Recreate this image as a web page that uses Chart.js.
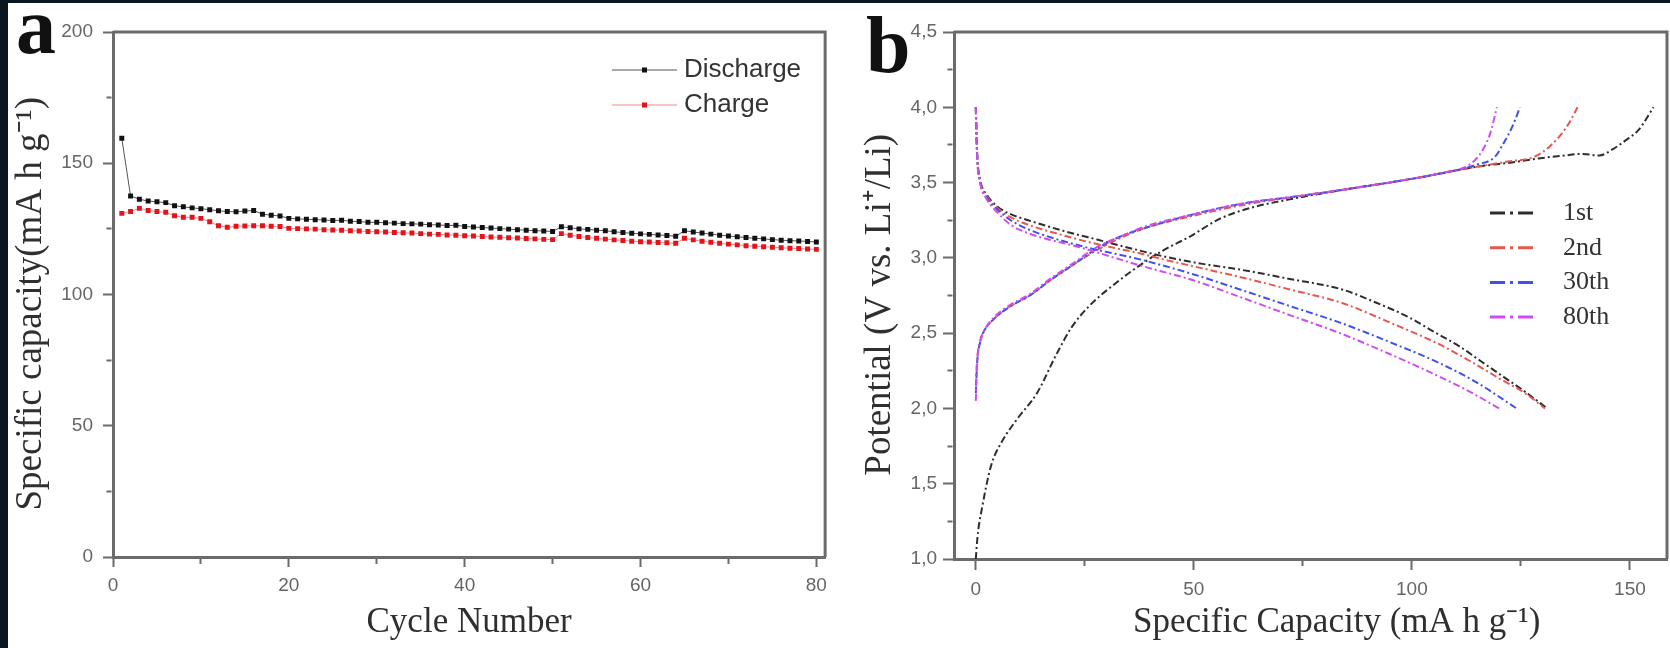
<!DOCTYPE html>
<html>
<head>
<meta charset="utf-8">
<title>Cycling performance and charge/discharge profiles</title>
<script src="https://cdn.jsdelivr.net/npm/chart.js@4.4.1/dist/chart.umd.min.js"></script>
<style>
  html, body { margin: 0; padding: 0; }
  body { width: 1670px; height: 648px; background: #0a1621; overflow: hidden; position: relative; }
  #sheet { position: absolute; left: 8px; top: 3px; width: 1662px; height: 645px; background: #fff; }
  .box { position: absolute; top: 0; height: 645px; }
  #boxA { left: 0; width: 826px; }
  #boxB { left: 826px; width: 836px; }
  .tag { position: absolute; font: bold 80px 'Liberation Serif', 'Times New Roman', serif; line-height: 1; color: #111; }
</style>
</head>
<body>
<div id="sheet">
  <div class="box" id="boxA"><canvas id="chartA"></canvas></div>
  <div class="box" id="boxB"><canvas id="chartB"></canvas></div>
  <span class="tag" style="left:8px;top:-17px">a</span>
  <span class="tag" style="left:858px;top:2px">b</span>
</div>
<script>
// ---- panel a : capacity vs cycle number ----
const cycles = [
  1, 2, 3, 4, 5, 6, 7, 8, 9, 10,
  11, 12, 13, 14, 15, 16, 17, 18, 19, 20,
  21, 22, 23, 24, 25, 26, 27, 28, 29, 30,
  31, 32, 33, 34, 35, 36, 37, 38, 39, 40,
  41, 42, 43, 44, 45, 46, 47, 48, 49, 50,
  51, 52, 53, 54, 55, 56, 57, 58, 59, 60,
  61, 62, 63, 64, 65, 66, 67, 68, 69, 70,
  71, 72, 73, 74, 75, 76, 77, 78, 79, 80
];
const dischargeCapacity = [
  159.5, 137.5, 136.3, 135.6, 135.3, 135.0, 133.8, 133.4, 133.0, 132.7,
  132.3, 131.9, 131.6, 131.5, 131.8, 132.0, 130.6, 130.2, 129.9, 129.0,
  128.8, 128.7, 128.5, 128.4, 128.2, 128.3, 127.9, 127.8, 127.5, 127.5,
  127.3, 127.2, 127.0, 126.9, 126.8, 126.6, 126.5, 126.3, 126.4, 125.9,
  125.7, 125.5, 125.3, 125.1, 124.9, 124.7, 124.5, 124.3, 124.2, 124.0,
  125.8, 125.4, 125.0, 124.8, 124.5, 124.3, 123.9, 123.6, 123.3, 123.1,
  122.9, 122.7, 122.5, 122.2, 124.3, 123.8, 123.4, 123.0, 122.6, 122.3,
  122.0, 121.7, 121.4, 121.2, 120.9, 120.7, 120.5, 120.4, 120.2, 120.0
];
const chargeCapacity = [
  130.9, 131.6, 132.8, 132.0, 131.6, 131.3, 130.0, 129.4, 129.4, 129.0,
  127.7, 126.2, 125.6, 126.0, 126.1, 126.2, 126.2, 126.0, 125.9, 125.2,
  125.1, 125.0, 124.9, 124.7, 124.6, 124.5, 124.3, 124.2, 124.0, 123.9,
  123.8, 123.6, 123.5, 123.4, 123.2, 123.0, 122.9, 122.7, 122.6, 122.4,
  122.3, 122.1, 121.9, 121.8, 121.6, 121.5, 121.3, 121.2, 121.0, 120.9,
  123.2, 122.6, 122.1, 121.7, 121.4, 121.1, 120.8, 120.6, 120.3, 120.1,
  120.0, 119.8, 119.7, 119.5, 121.4, 120.8, 120.3, 119.9, 119.5, 119.2,
  118.9, 118.6, 118.4, 118.2, 118.0, 117.8, 117.6, 117.5, 117.3, 117.2
];
const cycleTicks = [0, 10, 20, 30, 40, 50, 60, 70, 80];
const cycleTickLabels = ['0', '', '20', '', '40', '', '60', '', '80'];
const capTicks = [0, 25, 50, 75, 100, 125, 150, 175, 200];
const capTickLabels = ['0', '', '50', '', '100', '', '150', '', '200'];

// ---- panel b : voltage profiles, [capacity, potential] ----
const cycleNames = ['1st', '2nd', '30th', '80th'];
const charge1st = [[0, 1.0], [0.4, 1.15], [1.5, 1.35], [3.5, 1.62], [6, 1.78], [9.5, 1.93], [14, 2.1], [18.5, 2.36], [22, 2.54], [26, 2.68], [32, 2.83], [37.6, 2.95], [43, 3.05], [49, 3.14], [56, 3.26], [62.8, 3.33], [74, 3.4], [86, 3.46], [101, 3.53], [110, 3.58], [116, 3.61], [122, 3.63], [129, 3.66], [135, 3.68], [139, 3.69], [143, 3.68], [146, 3.72], [149, 3.78], [152, 3.85], [155.4, 4.0]];
const discharge1st = [[0, 4.0], [0.3, 3.7], [1, 3.52], [2.5, 3.42], [5, 3.34], [8, 3.29], [12, 3.25], [20, 3.18], [28, 3.12], [36, 3.06], [43, 3.01], [52, 2.96], [61, 2.92], [72, 2.86], [84, 2.79], [92, 2.7], [99, 2.61], [105, 2.51], [111, 2.41], [116, 2.31], [121, 2.21], [126, 2.11], [131, 2.0]];
const charge2nd = [[0, 2.15], [0.3, 2.32], [1, 2.45], [2, 2.52], [4, 2.59], [8, 2.68], [12.4, 2.75], [17, 2.85], [21.6, 2.94], [27.7, 3.05], [33, 3.13], [39, 3.2], [50, 3.28], [61, 3.35], [74, 3.41], [86, 3.46], [101, 3.53], [110, 3.58], [116, 3.61], [122, 3.64], [128, 3.67], [131.6, 3.74], [135.5, 3.87], [138, 4.0]];
const discharge2nd = [[0, 4.0], [0.3, 3.69], [1, 3.51], [2.5, 3.41], [5, 3.33], [8, 3.27], [12, 3.22], [20, 3.15], [28, 3.09], [37.6, 3.03], [43, 2.99], [52, 2.93], [61, 2.87], [72, 2.79], [84, 2.7], [95, 2.57], [106, 2.43], [113, 2.32], [120, 2.2], [126, 2.1], [130.5, 2.0]];
const charge30th = [[0, 2.1], [0.3, 2.3], [1, 2.44], [2, 2.52], [4, 2.59], [8, 2.68], [12.4, 2.75], [17, 2.85], [21.6, 2.94], [27.7, 3.06], [33, 3.14], [39, 3.2], [50, 3.29], [61, 3.36], [74, 3.41], [86, 3.46], [101, 3.53], [110, 3.58], [115, 3.62], [119, 3.67], [121, 3.76], [123, 3.87], [124.8, 4.0]];
const discharge30th = [[0, 4.0], [0.3, 3.68], [1, 3.5], [2.5, 3.4], [5, 3.32], [8, 3.25], [12, 3.19], [24, 3.08], [37.6, 2.99], [50, 2.89], [60.6, 2.79], [72, 2.68], [83.5, 2.57], [95, 2.44], [106.4, 2.3], [115, 2.17], [124, 2.0]];
const charge80th = [[0, 2.05], [0.3, 2.3], [1, 2.44], [2, 2.52], [4, 2.6], [8, 2.69], [12.4, 2.76], [17, 2.86], [21.6, 2.95], [27.7, 3.07], [33, 3.14], [39, 3.21], [50, 3.29], [61, 3.36], [74, 3.41], [86, 3.46], [101, 3.53], [108, 3.57], [112, 3.6], [114.5, 3.65], [116.3, 3.72], [118, 3.83], [119.5, 4.0]];
const discharge80th = [[0, 4.0], [0.3, 3.68], [1, 3.5], [2.5, 3.39], [5, 3.3], [8, 3.22], [12.4, 3.16], [23.9, 3.07], [37.6, 2.95], [50, 2.85], [60.6, 2.74], [72, 2.62], [83.5, 2.5], [95, 2.36], [106.4, 2.21], [114, 2.1], [120, 2.0]];
const specCapTicks = [0, 25, 50, 75, 100, 125, 150];
const specCapTickLabels = ['0', '', '50', '', '100', '', '150'];
const potentialTicks = [1.0, 1.25, 1.5, 1.75, 2.0, 2.25, 2.5, 2.75, 3.0, 3.25, 3.5, 3.75, 4.0, 4.25, 4.5];
const potentialTickLabels = ['1,0', '', '1,5', '', '2,0', '', '2,5', '', '3,0', '', '3,5', '', '4,0', '', '4,5'];

// ---- look ----
const sans = "'Liberation Sans', Arial, sans-serif";
const serif = "'Liberation Serif', 'Times New Roman', serif";
const axisColor = '#6b6b6b';
const tickColor = '#666666';
const titleColor = '#2f2f2f';
const cycleColors = ['#2e2e2e', '#e8574f', '#3f51e6', '#cf4df0'];

// short minor ticks: only keep the part of the tick next to the axis
function minorDash(labels, tickLen, side) {
  return ctx => {
    if (labels[ctx.index] !== '') return [];
    const len = tickLen - 1.5;
    return side === 'left' ? [0, len - 5, 5, 100] : [5, 100];
  };
}

function axis(opts) {
  return {
    type: 'linear',
    min: opts.min,
    max: opts.max,
    afterBuildTicks: s => { s.ticks = opts.ticks.map(v => ({ value: v })); },
    afterFit: s => { if (opts.side === 'left') s.width = opts.size; else s.height = opts.size; },
    ticks: {
      autoSkip: false, maxRotation: 0, padding: opts.tickPad,
      color: tickColor, font: { family: sans, size: 19 },
      callback: (v, i) => opts.labels[i]
    },
    grid: {
      drawOnChartArea: false, tickLength: opts.tickLen, tickWidth: 2, tickColor: axisColor,
      tickBorderDash: minorDash(opts.labels, opts.tickLen, opts.side)
    },
    border: { display: true, width: 3, color: axisColor },
    title: {
      display: true, text: opts.title, color: titleColor,
      font: { family: serif, size: opts.side === 'left' ? 37 : 35 },
      padding: opts.side === 'left' ? { top: opts.titlePad, bottom: 0 } : { top: 0, bottom: opts.titlePad }
    }
  };
}

const frame = {
  id: 'frame',
  afterDraw(chart) {
    const { ctx, chartArea: { left, top, right, bottom } } = chart;
    ctx.save();
    ctx.strokeStyle = axisColor;
    ctx.lineWidth = 3;
    ctx.beginPath();
    ctx.moveTo(left, top);
    ctx.lineTo(right, top);
    ctx.lineTo(right, bottom);
    ctx.stroke();
    ctx.restore();
  }
};

const insideLegend = {
  id: 'insideLegend',
  afterDraw(chart, args, o) {
    const { ctx, chartArea } = chart;
    ctx.save();
    ctx.font = o.font;
    ctx.textBaseline = 'middle';
    o.items.forEach((idx, row) => {
      const ds = chart.data.datasets[idx];
      const x0 = chartArea.left + o.left;
      const y = chartArea.top + o.top + row * o.rowGap;
      ctx.save();
      ctx.strokeStyle = ds.borderColor;
      ctx.lineWidth = o.lineWidth;
      ctx.setLineDash(o.dash || []);
      ctx.beginPath();
      ctx.moveTo(x0, y);
      ctx.lineTo(x0 + o.sample, y);
      ctx.stroke();
      ctx.restore();
      if (o.marker) {
        ctx.fillStyle = ds.pointBackgroundColor;
        ctx.fillRect(x0 + o.sample / 2 - o.marker / 2, y - o.marker / 2, o.marker, o.marker);
      }
      ctx.fillStyle = o.textColor;
      ctx.fillText(ds.label, x0 + o.textOffset, y);
    });
    ctx.restore();
  }
};

new Chart(document.getElementById('chartA'), {
  type: 'line',
  data: {
    datasets: [
      {
        label: 'Discharge',
        data: cycles.map((c, i) => ({ x: c, y: dischargeCapacity[i] })),
        borderColor: '#555555', borderWidth: 1,
        pointStyle: 'rect', pointRadius: 3.5, pointBorderWidth: 0,
        pointBackgroundColor: '#111111'
      },
      {
        label: 'Charge',
        data: cycles.map((c, i) => ({ x: c, y: chargeCapacity[i] })),
        borderColor: '#f08a8a', borderWidth: 1,
        pointStyle: 'rect', pointRadius: 3.5, pointBorderWidth: 0,
        pointBackgroundColor: '#e3121b'
      }
    ]
  },
  options: {
    responsive: true, maintainAspectRatio: false, animation: false, events: [],
    layout: { padding: { top: 29, right: 7, left: 0, bottom: 0 } },
    plugins: {
      legend: { display: false },
      tooltip: { enabled: false },
      insideLegend: {
        items: [0, 1], left: 499, top: 38, rowGap: 35, sample: 65, textOffset: 72,
        font: '26px ' + sans, textColor: '#333333', lineWidth: 1, marker: 5
      }
    },
    scales: {
      x: axis({ side: 'bottom', min: 0, max: 81, ticks: cycleTicks, labels: cycleTickLabels, size: 91, tickLen: 10, tickPad: 7, title: 'Cycle Number', titlePad: 4 }),
      y: axis({ side: 'left', min: 0, max: 200, ticks: capTicks, labels: capTickLabels, size: 105, tickLen: 10, tickPad: 10, title: 'Specific capacity(mA h g\u207B\u00B9)\u2002', titlePad: 1 })
    }
  },
  plugins: [frame, insideLegend]
});

const profiles = [
  [charge1st, discharge1st],
  [charge2nd, discharge2nd],
  [charge30th, discharge30th],
  [charge80th, discharge80th]
];
const profileSets = [];
profiles.forEach((pair, k) => {
  pair.forEach(curve => {
    profileSets.push({
      label: cycleNames[k],
      data: curve.map(p => ({ x: p[0], y: p[1] })),
      borderColor: cycleColors[k], borderWidth: 2,
      borderDash: [7, 3, 2, 3],
      pointRadius: 0, fill: false,
      cubicInterpolationMode: 'monotone',
      order: 3 - k
    });
  });
});

new Chart(document.getElementById('chartB'), {
  type: 'line',
  data: { datasets: profileSets },
  options: {
    responsive: true, maintainAspectRatio: false, animation: false, events: [],
    layout: { padding: { top: 29, right: 3, left: 0, bottom: 0 } },
    plugins: {
      legend: { display: false },
      tooltip: { enabled: false },
      insideLegend: {
        items: [0, 2, 4, 6], left: 536, top: 181, rowGap: 34.7, sample: 48, textOffset: 73,
        font: '26px ' + serif, textColor: '#333333', lineWidth: 3, dash: [15, 5, 3, 5]
      }
    },
    scales: {
      x: axis({ side: 'bottom', min: -5, max: 158.5, ticks: specCapTicks, labels: specCapTickLabels, size: 89, tickLen: 11, tickPad: 8, title: '\u2002\u2002\u2002Specific Capacity (mA h g\u207B\u00B9)', titlePad: 4 }),
      y: axis({ side: 'left', min: 1.0, max: 4.5, ticks: potentialTicks, labels: potentialTickLabels, size: 120, tickLen: 11, tickPad: 6, title: 'Potential (V vs. Li\u207A/Li)\u2002', titlePad: 24 })
    }
  },
  plugins: [frame, insideLegend]
});
</script>
</body>
</html>
